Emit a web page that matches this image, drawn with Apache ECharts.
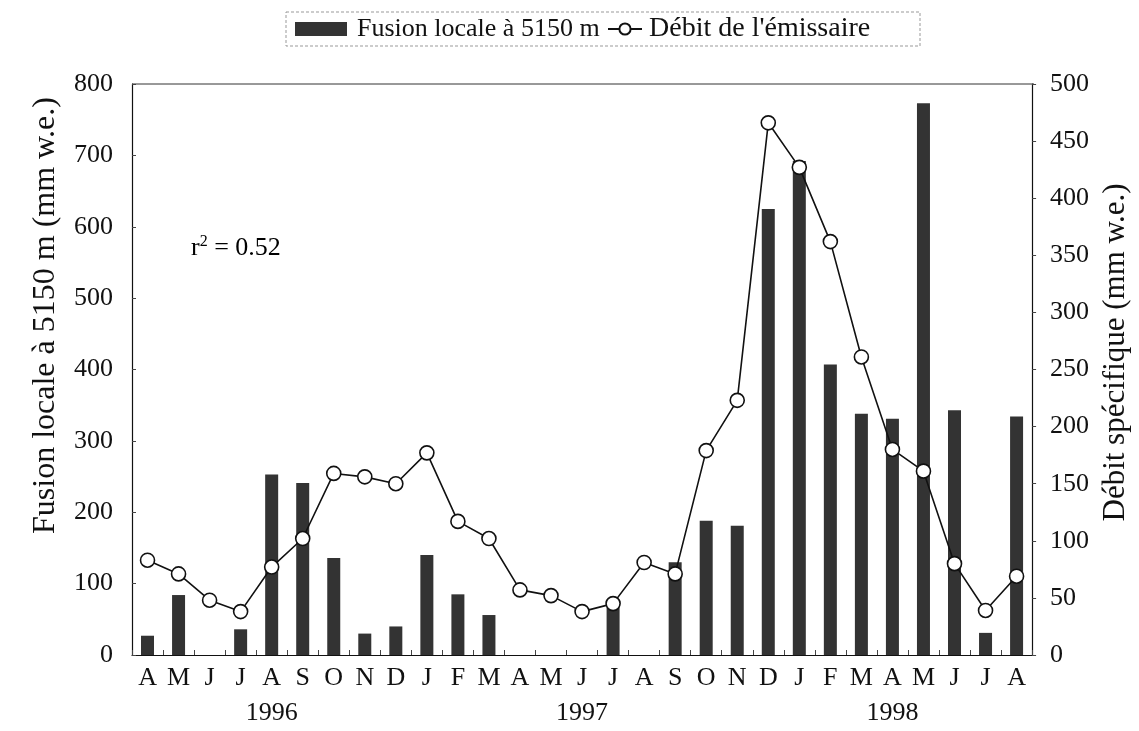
<!DOCTYPE html>
<html>
<head>
<meta charset="utf-8">
<script src="https://cdn.jsdelivr.net/npm/echarts@6/dist/echarts.min.js"></script>
<style>
html,body{margin:0;padding:0;background:#fff;}
#c{width:1139px;height:731px;}
</style>
</head>
<body>
<div id="c"></div>
<script>
var months = ['A','M','J','J','A','S','O','N','D','J','F','M','A','M','J','J','A','S','O','N','D','J','F','M','A','M','J','J','A'];
var years  = ['','','','','1996','','','','','','','','','','1997','','','','','','','','','','1998','','','',''];
var fusion = [27,84,0,36,253,241,136,30,40,140,85,56,0,0,0,78,0,130,188,181,625,692,407,338,331,773,343,31,334];
var debit  = [83,71,48,38,77,102,159,156,150,177,117,102,57,52,38,45,81,71,179,223,466,427,362,261,180,161,80,39,69];
var leftTicks = [0,100,200,300,400,500,600,700,800];
var rightTicks = [0,50,100,150,200,250,300,350,400,450,500];

var FONT = '"Liberation Serif","Times New Roman",serif';
var chart = echarts.init(document.getElementById('c'));
chart.setOption({
  animation:false,
  backgroundColor:'#fff',
  legend:[
    {
      left:295, top:16, padding:0, itemGap:0,
      textStyle:{fontFamily:FONT,fontSize:26,color:'#111',padding:[0,0,0,5]},
      data:[{name:'Fusion locale à 5150 m', icon:'rect', itemStyle:{color:'#333'}}],
      itemWidth:52, itemHeight:14
    },
    {
      left:607, top:15, padding:0, itemGap:0,
      textStyle:{fontFamily:FONT,fontSize:28,color:'#111',padding:[0,0,0,2]},
      data:[{name:"Débit de l'émissaire"}],
      itemWidth:34, itemHeight:14
    }
  ],
  grid:{left:132,right:105,top:84,bottom:70,containLabel:false},
  xAxis:{
    type:'category',
    data:months,
    boundaryGap:true,
    axisLine:{lineStyle:{color:'#111',width:1.2}},
    axisTick:{show:true,inside:true,length:5,lineStyle:{color:'#444'}},
    axisLabel:{
      interval:0, margin:6, color:'#111', fontFamily:FONT, fontSize:26, lineHeight:35,
      formatter:function(v,i){return years[i] ? v+'\n'+years[i] : v;}
    },
    splitLine:{show:false}
  },
  yAxis:[
    {
      type:'value', min:0, max:800, interval:100, position:'left',
      name:'Fusion locale à 5150 m (mm w.e.)', nameLocation:'middle', nameGap:70, nameRotate:90,
      nameTextStyle:{fontFamily:FONT,fontSize:32,color:'#111',padding:[0,0,0,108]},
      axisLine:{show:true,lineStyle:{color:'#111',width:1.2}},
      axisTick:{show:true,inside:true,length:4,lineStyle:{color:'#444'}},
      axisLabel:{color:'#111',fontFamily:FONT,fontSize:26,margin:19},
      splitLine:{show:false}
    },
    {
      type:'value', min:0, max:500, interval:50, position:'right',
      name:'Débit spécifique (mm w.e.)', nameLocation:'middle', nameGap:62, nameRotate:90,
      nameTextStyle:{fontFamily:FONT,fontSize:31,color:'#111',padding:[0,0,0,34]},
      axisLine:{show:true,lineStyle:{color:'#111',width:1.2}},
      axisTick:{show:true,inside:false,length:4,lineStyle:{color:'#444'}},
      axisLabel:{color:'#111',fontFamily:FONT,fontSize:26,margin:18},
      splitLine:{show:false}
    }
  ],
  graphic:[
    {type:'line', shape:{x1:132,y1:84,x2:1034,y2:84}, style:{stroke:'#333',lineWidth:1}},
    {type:'rect', shape:{x:286,y:12,width:634,height:34}, style:{fill:null,stroke:'#999',lineWidth:1,lineDash:[3,2]}},
    {type:'text', left:191, top:234, style:{
      text:'{b|r}{s|2}{b| = 0.52}',
      rich:{
        b:{fontFamily:FONT,fontSize:26,color:'#111'},
        s:{fontFamily:FONT,fontSize:16,color:'#111',verticalAlign:'top',padding:[0,0,12,0]}
      }
    }}
  ],
  series:[
    {
      name:'Fusion locale à 5150 m', type:'bar', yAxisIndex:0, data:fusion,
      barWidth:13, itemStyle:{color:'#333'}
    },
    {
      name:"Débit de l'émissaire", type:'line', yAxisIndex:1, data:debit,
      symbol:'circle', symbolSize:14,
      lineStyle:{color:'#111',width:1.6},
      itemStyle:{color:'#fff',borderColor:'#111',borderWidth:1.6}
    }
  ]
});
</script>
</body>
</html>
